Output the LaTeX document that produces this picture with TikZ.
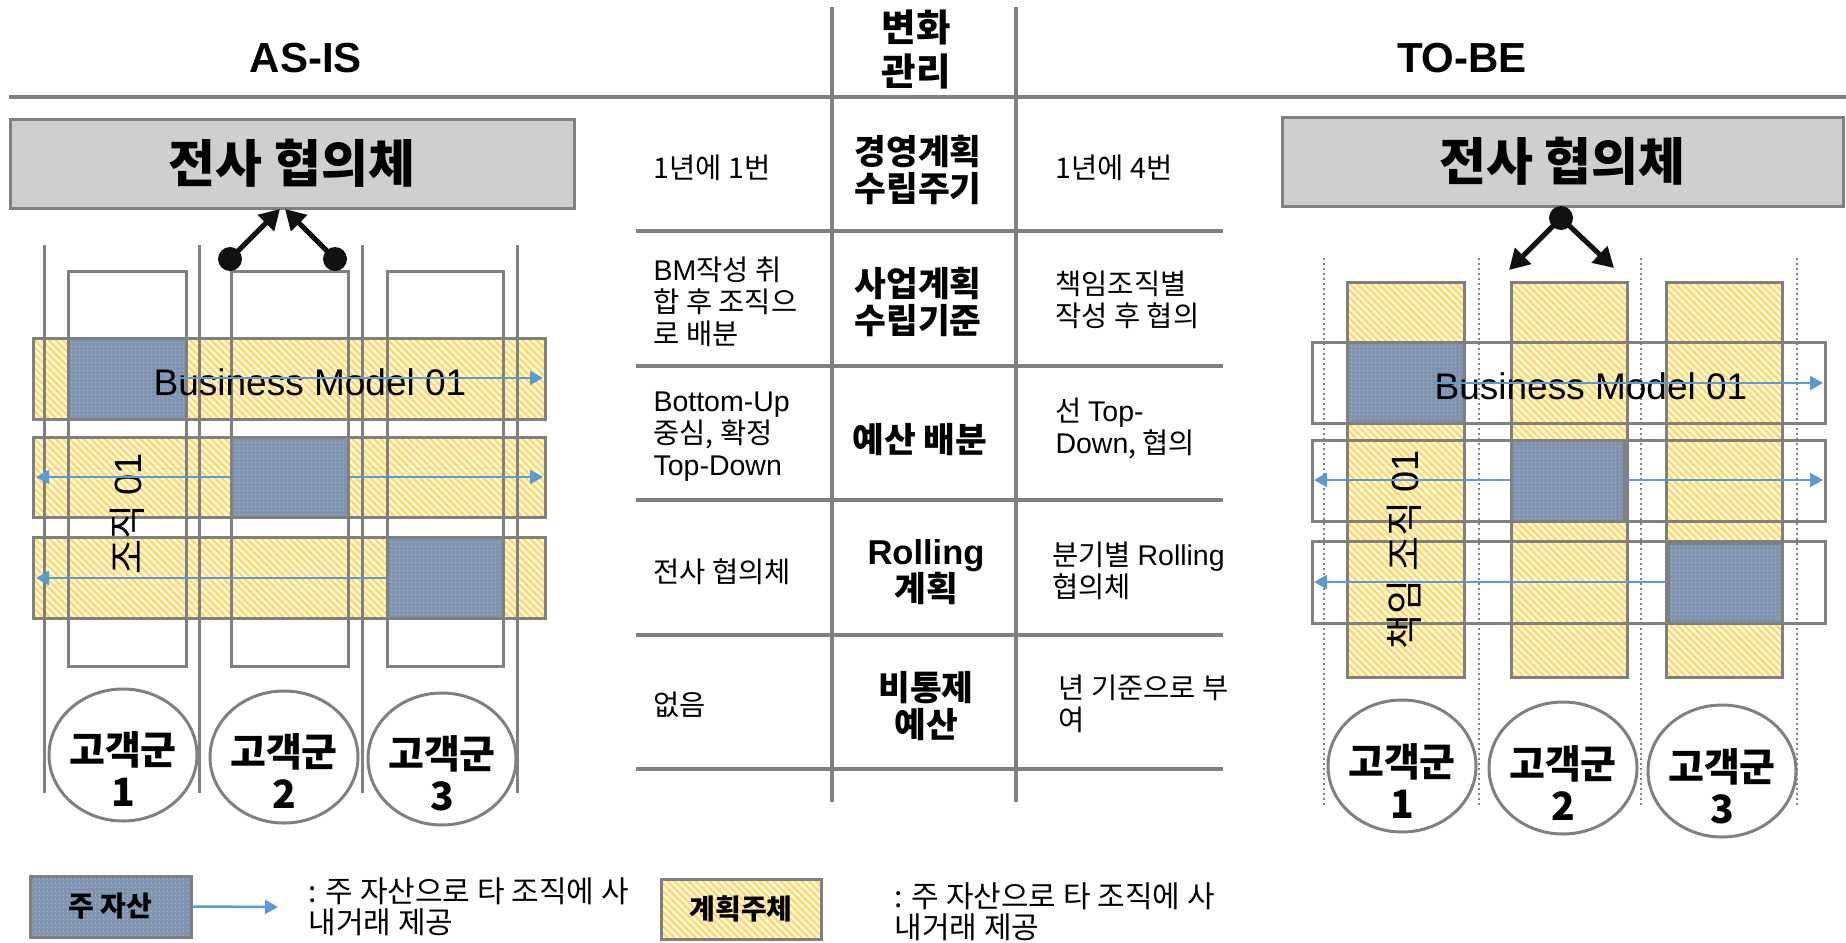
\documentclass[tikz,border=0pt]{standalone}
\usepackage{fontspec}
\setmainfont{Noto Sans CJK KR}
\newfontfamily\lat{Liberation Sans}
\usetikzlibrary{arrows.meta,patterns.meta,shapes.geometric}
\newcommand{\FSZ}[2]{\fontsize{#1pt}{#2pt}\selectfont}
\definecolor{lgray}{HTML}{808080}
\definecolor{boxgray}{HTML}{D0CECF}
\definecolor{hatchY}{HTML}{FFD966}
\definecolor{hatchbg}{HTML}{FFF7E0}
\definecolor{bluebox}{HTML}{8093B0}
\definecolor{bluedot}{HTML}{AEBBCF}
\definecolor{arrowblue}{HTML}{5B9BD5}
\definecolor{inkblack}{HTML}{111111}
\tikzset{
  tline/.style={draw=lgray, line width=3.5pt},
  hatched/.style={preaction={fill=hatchbg}, pattern={Lines[angle=-45,distance=5pt,line width=2.2pt]}, pattern color=hatchY},
  bandbox/.style={rectangle, draw=lgray, line width=3pt, inner sep=0pt, hatched},
  outlinebox/.style={rectangle, draw=lgray, line width=3pt, inner sep=0pt},
  assetbox/.style={rectangle, draw=lgray, line width=3pt, inner sep=0pt, preaction={fill=bluebox}, pattern={Dots[distance=4pt,radius=0.7pt]}, pattern color=bluedot},
  bigbox/.style={rectangle, draw=lgray, line width=3pt, fill=boxgray, inner sep=0pt, font=\bfseries\FSZ{51}{60}},
  flowarrow/.style={draw=arrowblue, line width=2.5pt, -{Triangle[length=13pt,width=14pt]}},
  linkarrow/.style={draw=inkblack, line width=5pt, -{Triangle[length=20pt,width=22pt]}},
  knob/.style={circle, fill=inkblack, minimum size=24pt, inner sep=0pt},
  custbox/.style={ellipse, draw=lgray, line width=3pt, fill=white, minimum width=148pt, minimum height=132pt, inner sep=0pt},
  custtext/.style={align=center, font=\bfseries\FSZ{39}{42}},
  vline/.style={draw=lgray, line width=3pt},
  dotline/.style={draw=lgray, line width=2pt, dash pattern=on 2pt off 3pt},
  celltext/.style={align=left, anchor=west, font=\FSZ{28.5}{32}},
  midtext/.style={align=center, font=\bfseries\FSZ{34.5}{37}},
  modeltext/.style={font=\lat\FSZ{37}{40}},
  legtext/.style={align=left, anchor=west, font=\FSZ{30}{31}},
  legbox/.style={font=\bfseries\FSZ{28}{30}},
}
\begin{document}
\begin{tikzpicture}[x=1pt,y=-1pt]
\useasboundingbox (0,0) rectangle (1846,942);

% ---------- header ----------
\node[font=\lat\bfseries\FSZ{42}{48}] (asis) at (306,58) {AS-IS};
\node[font=\lat\bfseries\FSZ{42}{48}] (tobe) at (1462,58) {TO-BE};
\node[align=center, font=\bfseries\FSZ{37.5}{44}] (hdr) at (916,50) {변화\\관리};

\coordinate (hl0) at (9,97);   \coordinate (hl1) at (1846,97);
\draw[tline] (hl0) -- (hl1);
\coordinate (va0) at (832,7);  \coordinate (va1) at (832,802);
\coordinate (vb0) at (1016,7); \coordinate (vb1) at (1016,802);
\draw[tline] (va0) -- (va1);
\draw[tline] (vb0) -- (vb1);
\foreach \yy [count=\i] in {231,366,500,635,769}{
  \coordinate (rl\i) at (636,\yy); \coordinate (rr\i) at (1223,\yy);
  \draw[tline] (rl\i) -- (rr\i);
}

% ---------- table text ----------
\node[celltext] (l1) at (650,168) {1년에 1번};
\node[celltext] (l2) at (650,302) {{\lat BM}작성 취\\합 후 조직으\\로 배분};
\node[celltext] (l3) at (650,437) {{\lat Bottom-Up}\\중심, 확정\\{\lat Top-Down}};
\node[celltext] (l4) at (650,572) {전사 협의체};
\node[celltext] (l5) at (650,705) {없음};

\node[midtext] (m1) at (918,170) {경영계획\\수립주기};
\node[midtext] (m2) at (918,302) {사업계획\\수립기준};
\node[midtext] (m3) at (920,440) {예산 배분};
\node[midtext] (m4) at (926,572) {{\lat Rolling}\\계획};
\node[midtext] (m5) at (926,706) {비통제\\예산};

\node[celltext] (r1) at (1052,168) {1년에 4번};
\node[celltext] (r2) at (1052,300) {책임조직별\\작성 후 협의};
\node[celltext] (r3) at (1052,428) {선 {\lat Top-}\\{\lat Down}, 협의};
\node[celltext] (r4) at (1049,571) {분기별 {\lat Rolling}\\협의체};
\node[celltext] (r5) at (1055,704) {년 기준으로 부\\여};

% ---------- AS-IS diagram ----------
\node[bandbox, minimum width=512pt, minimum height=81pt] (b1) at (289,378.5) {};
\node[bandbox, minimum width=512pt, minimum height=80pt] (b2) at (289,477) {};
\node[bandbox, minimum width=512pt, minimum height=81pt] (b3) at (289,577.5) {};
\node[assetbox, minimum width=118pt, minimum height=81pt] (s1) at (127,378.5) {};
\node[assetbox, minimum width=117pt, minimum height=80pt] (s2) at (289.5,477) {};
\node[assetbox, minimum width=116pt, minimum height=81pt] (s3) at (445,577.5) {};
\node[outlinebox, minimum width=118pt, minimum height=395pt] (c1) at (127,468.5) {};
\node[outlinebox, minimum width=117pt, minimum height=395pt] (c2) at (289.5,468.5) {};
\node[outlinebox, minimum width=116pt, minimum height=395pt] (c3) at (445,468.5) {};
\foreach \xx [count=\i] in {44,199,362,517}{
  \coordinate (lv\i a) at (\xx,245); \coordinate (lv\i b) at (\xx,793);
  \draw[vline] (lv\i a) -- (lv\i b);
}
\node[modeltext] (bm1) at (310,382) {Business Model 01};
\node[rotate=90, font=\FSZ{38}{40}] (org1) at (127,514) {조직 {\lat 01}};

\coordinate (a1s) at (178,378);  \coordinate (a1e) at (543,378);
\coordinate (a2l) at (36,477);   \coordinate (a2r) at (543,477);
\coordinate (a3l) at (36,578);
\draw[flowarrow] (a1s) -- (a1e);
\draw[flowarrow] (s2.west) -- (a2l);
\draw[flowarrow] (s2.east) -- (a2r);
\draw[flowarrow] (s3.west |- a3l) -- (a3l);

\node[bigbox, minimum width=564pt, minimum height=89pt] (hqL) at (292,163.5) {전사 협의체};
\node[knob] (kL1) at (230,259) {};
\node[knob] (kL2) at (335,259) {};
\coordinate (tL1) at (280,209);
\coordinate (tL2) at (285,209);
\draw[linkarrow] (kL1.center) -- (tL1);
\draw[linkarrow] (kL2.center) -- (tL2);

\node[custbox] (e1) at (123,755) {};
\node[custbox] (e2) at (284,757) {};
\node[custbox] (e3) at (442,759) {};
\node[custtext] (et1) at (123,769) {고객군\\1};
\node[custtext] (et2) at (284,771) {고객군\\2};
\node[custtext] (et3) at (442,773) {고객군\\3};

% ---------- TO-BE diagram ----------
\node[bandbox, minimum width=117pt, minimum height=395pt] (C1) at (1405.5,479.5) {};
\node[bandbox, minimum width=116pt, minimum height=395pt] (C2) at (1569,479.5) {};
\node[bandbox, minimum width=116pt, minimum height=395pt] (C3) at (1724,479.5) {};
\node[outlinebox, minimum width=513pt, minimum height=81pt] (B1) at (1568.5,382.5) {};
\node[outlinebox, minimum width=513pt, minimum height=81pt] (B2) at (1568.5,480.5) {};
\node[outlinebox, minimum width=513pt, minimum height=82pt] (B3) at (1568.5,582) {};
\node[assetbox, minimum width=117pt, minimum height=81pt] (S1) at (1405.5,382.5) {};
\node[assetbox, minimum width=113pt, minimum height=81pt] (S2) at (1567.5,480.5) {};
\node[assetbox, minimum width=114pt, minimum height=80pt] (S3) at (1725,583) {};
\foreach \xx [count=\i] in {1324,1479,1641,1797}{
  \coordinate (rv\i a) at (\xx,258); \coordinate (rv\i b) at (\xx,805);
  \draw[dotline] (rv\i a) -- (rv\i b);
}
\node[modeltext] (bm2) at (1591,386) {Business Model 01};
\node[rotate=90, font=\FSZ{38}{40}] (org2) at (1404,550) {책임 조직 {\lat 01}};

\coordinate (A1s) at (1435,383); \coordinate (A1e) at (1823,383);
\coordinate (A2l) at (1314,480); \coordinate (A2r) at (1823,480);
\coordinate (A3l) at (1314,582);
\draw[flowarrow] (A1s) -- (A1e);
\draw[flowarrow] (S2.west |- A2l) -- (A2l);
\draw[flowarrow] (S2.east |- A2r) -- (A2r);
\draw[flowarrow] (S3.west |- A3l) -- (A3l);

\node[bigbox, minimum width=561pt, minimum height=89pt] (hqR) at (1562.5,161.5) {전사 협의체};
\node[knob] (kR) at (1561,218) {};
\coordinate (tR1) at (1509,270);
\coordinate (tR2) at (1614,268);
\draw[linkarrow] (kR.center) -- (tR1);
\draw[linkarrow] (kR.center) -- (tR2);

\node[custbox] (E1) at (1402,766) {};
\node[custbox] (E2) at (1563,768) {};
\node[custbox] (E3) at (1722,771) {};
\node[custtext] (Et1) at (1402,781) {고객군\\1};
\node[custtext] (Et2) at (1563,783) {고객군\\2};
\node[custtext] (Et3) at (1722,786) {고객군\\3};

% ---------- legend ----------
\node[assetbox, legbox, minimum width=161pt, minimum height=61pt] (lg1) at (110.5,906.5) {주 자산};
\coordinate (lga) at (278,907);
\draw[flowarrow] (lg1.east) -- (lga);
\node[legtext] (lgt1) at (305,907) {: 주 자산으로 타 조직에 사\\내거래 제공};
\node[bandbox, legbox, minimum width=160pt, minimum height=60pt] (lg2) at (741,909) {계획주체};
\node[legtext] (lgt2) at (891,912) {: 주 자산으로 타 조직에 사\\내거래 제공};
\end{tikzpicture}
\end{document}
